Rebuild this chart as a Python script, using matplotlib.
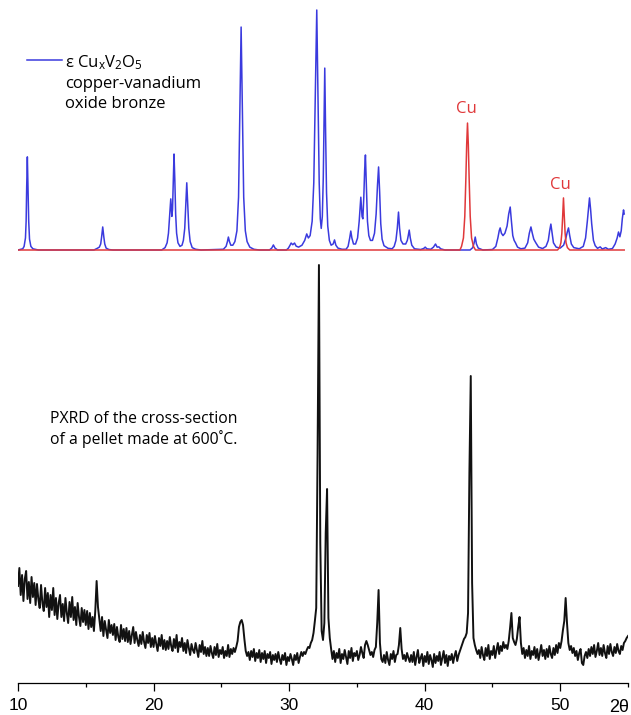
import matplotlib
matplotlib.use('Agg')
import matplotlib.pyplot as plt
from matplotlib.lines import Line2D
from matplotlib.ticker import MultipleLocator
import numpy as np

plt.rcParams['mathtext.fontset'] = 'custom'
plt.rcParams['mathtext.rm'] = 'Open Sans'
plt.rcParams['mathtext.it'] = 'Open Sans:italic'

# simulated pattern of the bronze, digitised (2theta, relative intensity %)
bronze_trace = [
    (10.0, 0), (10.35, 0.5), (10.45, 1.5), (10.55, 5), (10.6, 12), (10.64, 26), (10.69, 38.8), (10.74, 26),
    (10.79, 12), (10.85, 4.5), (10.95, 1.5), (11.1, 0.5), (11.5, 0),
    (15.6, 0), (15.85, 0.7), (16.0, 1.2), (16.1, 2.5), (16.17, 5.5), (16.25, 9.6), (16.33, 5.5), (16.4, 2.5),
    (16.5, 0.8), (16.7, 0.2), (17.0, 0),
    (20.6, 0), (20.85, 1), (21.0, 3), (21.1, 7), (21.18, 14), (21.27, 21.3), (21.35, 14), (21.4, 17),
    (21.45, 28), (21.51, 40), (21.57, 29), (21.63, 15), (21.7, 7), (21.8, 3), (21.95, 1.5), (22.1, 2),
    (22.2, 4), (22.3, 9), (22.38, 19), (22.45, 28), (22.52, 19), (22.6, 9), (22.7, 3.5), (22.85, 1),
    (23.1, 0.3), (23.5, 0),
    (25.15, 0.3), (25.35, 1.5), (25.45, 3.5), (25.52, 5.4), (25.6, 3.5), (25.7, 2), (25.85, 2), (26.0, 3.5),
    (26.15, 8), (26.27, 22), (26.36, 55), (26.46, 92.9), (26.56, 55), (26.65, 22), (26.77, 8), (26.9, 3.5),
    (27.1, 1.2), (27.4, 0.3), (27.8, 0),
    (28.55, 0), (28.72, 0.8), (28.84, 2.1), (28.96, 0.8), (29.15, 0),
    (29.8, 0), (29.95, 0.8), (30.07, 2), (30.15, 2.9), (30.27, 2.2), (30.4, 2.9), (30.52, 1.6), (30.7, 1.2),
    (30.95, 2), (31.15, 4), (31.3, 6.7), (31.42, 5), (31.55, 6), (31.7, 12), (31.82, 28), (31.92, 60),
    (32.04, 100), (32.14, 60), (32.22, 28), (32.3, 13), (32.37, 9), (32.45, 14), (32.52, 30), (32.57, 52),
    (32.63, 75.8), (32.69, 50), (32.76, 24), (32.85, 10), (32.97, 4), (33.1, 2), (33.25, 2.5), (33.35, 4.2),
    (33.45, 2), (33.6, 0.8), (33.9, 0.3),
    (34.2, 0.3), (34.35, 1.5), (34.47, 5), (34.55, 7.9), (34.63, 5), (34.75, 2.5), (34.9, 2.5), (35.05, 5),
    (35.17, 12), (35.29, 22), (35.38, 14), (35.44, 13), (35.51, 22), (35.57, 33), (35.63, 39.6), (35.7, 26),
    (35.78, 12), (35.88, 6), (36.0, 4), (36.15, 4), (36.3, 7), (36.42, 15), (36.52, 27), (36.6, 34.6),
    (36.68, 24), (36.76, 11), (36.86, 4.5), (37.0, 1.8), (37.3, 0.7), (37.6, 0.5),
    (37.75, 1.5), (37.88, 4), (37.98, 9), (38.07, 15.8), (38.15, 9), (38.25, 4), (38.4, 2.5), (38.6, 2.5),
    (38.72, 4), (38.79, 6), (38.86, 8.3), (38.94, 5), (39.05, 2), (39.25, 0.5), (39.7, 0.2), (39.92, 0.6),
    (40.04, 1.2), (40.16, 0.5), (40.45, 0.3), (40.65, 1.2), (40.8, 2.5), (40.92, 1.2), (41.05, 1.3),
    (41.18, 0.5), (41.5, 0),
    (43.35, 0), (43.55, 1), (43.65, 3), (43.73, 5.4), (43.82, 2.5), (43.95, 0.8), (44.3, 0),
    (45.0, 0.2), (45.25, 1.5), (45.4, 5), (45.5, 8), (45.57, 9.2), (45.66, 7), (45.78, 6), (45.92, 7),
    (46.08, 10), (46.2, 15), (46.31, 17.9), (46.4, 12), (46.5, 6), (46.6, 4), (46.7, 3), (46.85, 1.2),
    (47.1, 0.5),
    (47.4, 0.8), (47.6, 3), (47.72, 7), (47.84, 9.6), (47.94, 7), (48.05, 4.5), (48.2, 3), (48.4, 1.2),
    (48.7, 0.6), (48.95, 1.5), (49.12, 4), (49.22, 8), (49.31, 10.8), (49.4, 7), (49.5, 3), (49.7, 1.2),
    (50.0, 0.8), (50.25, 2), (50.42, 5), (50.52, 7.5), (50.61, 9.2), (50.7, 6), (50.82, 2.5), (51.0, 1),
    (51.4, 0.5), (51.7, 1.5), (51.87, 5), (52.0, 12), (52.08, 17), (52.16, 21.7), (52.24, 17), (52.32, 11),
    (52.45, 4), (52.58, 1.8), (52.75, 0.7), (52.95, 1.3), (53.1, 0.4), (53.35, 1), (53.55, 0.3), (53.85, 0.6),
    (54.05, 2.5), (54.2, 5), (54.3, 7.5), (54.4, 5.5), (54.5, 8), (54.58, 13), (54.67, 16.7), (54.72, 15),
]

# simulated Cu metal reflections
cu_trace = [
    (10.0, 0), (42.6, 0), (42.72, 1.5), (42.86, 5), (42.96, 14), (43.04, 30), (43.1, 44), (43.16, 52.9),
    (43.22, 44), (43.28, 30), (43.36, 14), (43.46, 5), (43.6, 1.5), (43.75, 0),
    (49.8, 0), (49.95, 1), (50.05, 3), (50.12, 7), (50.18, 14), (50.24, 21.7), (50.3, 14), (50.36, 7),
    (50.43, 3), (50.53, 1), (50.7, 0), (54.72, 0),
]
cu_labels = [(43.04, 57.2), (50.0, 25.4)]

# measured PXRD of the pellet cross-section, 10-55 deg in 0.1 deg steps
scan_start = 10.0
scan_step = 0.1
pellet_counts = [
    97, 115, 88, 108, 82, 104, 112, 84, 101, 80,    # 10
    106, 86, 100, 78, 99, 84, 75, 98, 80, 72,       # 11
    95, 76, 90, 66, 88, 73, 95, 68, 85, 64,         # 12
    80, 88, 66, 79, 62, 85, 70, 60, 81, 66,         # 13
    86, 63, 76, 58, 80, 66, 57, 75, 61, 73,         # 14
    58, 72, 54, 70, 56, 66, 52, 72, 102, 76,        # 15
    64, 52, 66, 47, 62, 53, 45, 63, 50, 58,         # 16
    48, 59, 43, 56, 46, 41, 58, 44, 54, 42,         # 17
    55, 41, 52, 39, 48, 56, 40, 51, 43, 37,         # 18
    48, 39, 51, 41, 35, 48, 40, 50, 36, 45,         # 19
    36, 47, 39, 32, 45, 37, 48, 34, 43, 33,         # 20
    42, 34, 46, 37, 32, 44, 35, 48, 31, 41,         # 21
    36, 45, 32, 40, 30, 43, 35, 28, 39, 33,         # 22
    30, 40, 33, 26, 38, 31, 42, 29, 36, 27,         # 23
    35, 27, 37, 30, 25, 36, 28, 39, 26, 33,         # 24
    29, 36, 25, 32, 27, 38, 26, 34, 29, 35,         # 25
    31, 36, 42, 56, 61, 63, 58, 44, 32, 27,         # 26
    31, 23, 32, 26, 34, 22, 30, 25, 33, 21,         # 27
    30, 24, 32, 20, 29, 25, 31, 19, 28, 23,         # 28
    29, 21, 31, 24, 19, 28, 23, 30, 18, 26,         # 29
    22, 29, 24, 18, 28, 23, 30, 20, 26, 31,         # 30
    27, 31, 29, 33, 36, 35, 40, 43, 50, 62,         # 31
    75, 230, 418, 140, 52, 43, 60, 150, 194, 65,    # 32
    45, 34, 24, 32, 21, 30, 25, 34, 20, 29,         # 33
    24, 33, 26, 19, 32, 25, 35, 22, 30, 27,         # 34
    32, 23, 28, 36, 30, 25, 38, 42, 38, 33,         # 35
    28, 31, 26, 33, 36, 60, 93, 40, 24, 21,         # 36
    28, 20, 31, 23, 18, 29, 24, 32, 21, 28,         # 37
    29, 38, 55, 34, 24, 28, 22, 30, 25, 21,         # 38
    28, 21, 31, 18, 26, 33, 20, 25, 29, 17,         # 39
    27, 21, 31, 19, 28, 23, 16, 29, 20, 27,         # 40
    22, 31, 18, 25, 32, 20, 28, 17, 27, 23,         # 41
    29, 20, 27, 32, 22, 28, 32, 36, 40, 44,         # 42
    46, 50, 70, 210, 307, 100, 45, 38, 33, 29,      # 43
    33, 25, 36, 28, 23, 35, 27, 38, 24, 32,         # 44
    28, 37, 25, 33, 40, 29, 37, 32, 41, 35,         # 45
    38, 34, 42, 55, 70, 45, 41, 38, 44, 56,         # 46
    66, 40, 29, 35, 25, 33, 27, 37, 24, 32,         # 47
    28, 36, 25, 34, 23, 30, 38, 27, 33, 24,         # 48
    34, 26, 37, 29, 25, 35, 28, 38, 30, 40,         # 49
    35, 42, 53, 62, 85, 60, 40, 33, 37, 30,         # 50
    35, 27, 32, 23, 30, 34, 20, 18, 27, 31,         # 51
    25, 34, 27, 36, 29, 38, 26, 32, 40, 28,         # 52
    35, 27, 38, 30, 25, 37, 29, 39, 31, 27,         # 53
    36, 30, 39, 32, 29, 37, 33, 40, 42, 45,         # 54
    47,                                             # 55
]

x_ticks = [10, 20, 30, 40, 50]

blue = '#3a3ade'
red = '#e0383a'
text_font = 'Open Sans'
tick_font = 'Liberation Sans'

W, H = 631, 715
fig = plt.figure(figsize=(W / 100, H / 100), dpi=100)

# top panel: reference patterns
ax_top = fig.add_axes([18 / W, 460 / H, 610 / W, 255 / H])
bx, by = zip(*bronze_trace)
cx, cy = zip(*cu_trace)
ax_top.plot(bx, by, color=blue, lw=1.1)
ax_top.plot(cx, cy, color=red, lw=1.1)
for (lx, ly) in cu_labels:
    ax_top.text(lx, ly, 'Cu', color=red, fontsize=12, family=text_font,
                ha='center', va='baseline')
ax_top.set_xlim(10, 55)
ax_top.set_ylim(-5 / 2.4, 250 / 2.4)
ax_top.axis('off')

# bottom panel: measured pattern
ax = fig.add_axes([18 / W, 32 / H, 610 / W, 428 / H])
scan_x = scan_start + scan_step * np.arange(len(pellet_counts))
ax.plot(scan_x, pellet_counts, color='#111111', lw=1.4)
ax.set_xlim(10, 55)
ax.set_ylim(0, 428)
for side in ['top', 'left', 'right']:
    ax.spines[side].set_visible(False)
ax.spines['bottom'].set_linewidth(0.9)
ax.set_yticks([])
ax.set_xticks(x_ticks)
ax.xaxis.set_minor_locator(MultipleLocator(5))
ax.tick_params(axis='x', which='major', direction='out', length=6, width=0.9,
               pad=5, labelsize=12.5)
ax.tick_params(axis='x', which='minor', direction='out', length=3, width=0.9)
for lab in ax.get_xticklabels():
    lab.set_family(tick_font)

fig.text(619 / W, 1 - 712 / H, '2θ', family=tick_font, fontsize=13,
         ha='center', va='baseline')

# legend drawn by hand
fig.add_artist(Line2D([27 / W, 62 / W], [1 - 60 / H, 1 - 60 / H],
                      color=blue, lw=1.1, transform=fig.transFigure))
fig.text(65 / W, 1 - 67 / H, r'ε Cu$_\mathrm{x}$V$_\mathrm{2}$O$_\mathrm{5}$',
         family=text_font, fontsize=12, va='baseline')
fig.text(65 / W, 1 - 88 / H, 'copper-vanadium', family=text_font,
         fontsize=12, va='baseline')
fig.text(65 / W, 1 - 108 / H, 'oxide bronze', family=text_font,
         fontsize=12, va='baseline')

fig.text(50 / W, 1 - 423 / H, 'PXRD of the cross-section', family=text_font,
         fontsize=11.3, va='baseline')
fig.text(50 / W, 1 - 444 / H, 'of a pellet made at 600˚C.', family=text_font,
         fontsize=11.3, va='baseline')

fig.savefig('out.png', dpi=100)
